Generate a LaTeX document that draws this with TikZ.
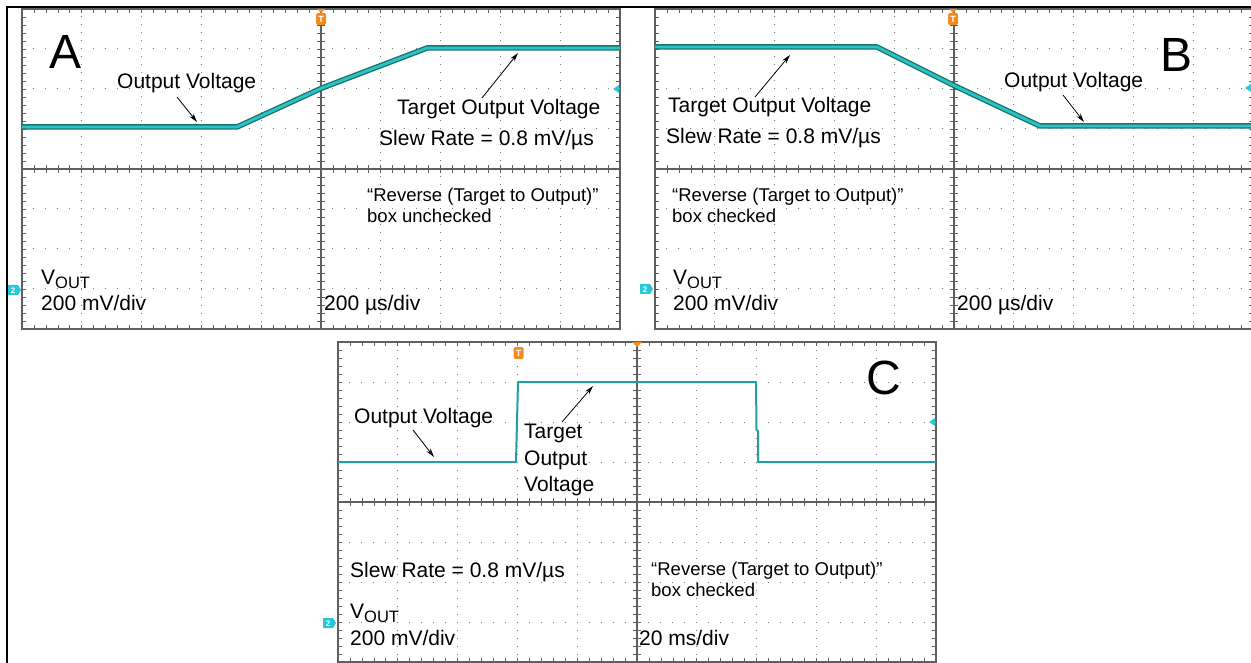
\documentclass[tikz,border=0pt]{standalone}
\usepackage{fontspec}
\setmainfont{Liberation Sans}
\usetikzlibrary{arrows.meta}
\definecolor{trdark}{RGB}{25,115,115}
\definecolor{trlight}{RGB}{45,195,195}
\definecolor{trigor}{RGB}{242,140,30}
\definecolor{chancy}{RGB}{40,200,215}
\definecolor{gridgray}{RGB}{125,125,125}
\definecolor{axisgray}{RGB}{95,95,95}
\tikzset{
  lbl/.style={anchor=base west, inner sep=0pt, font=\fontsize{21}{25}\selectfont},
  smalllbl/.style={anchor=base west, inner sep=0pt, font=\fontsize{18.5}{21}\selectfont},
  biglbl/.style={anchor=base west, inner sep=0pt, font=\fontsize{48}{50}\selectfont},
  pointer/.style={draw=black, line width=0.8pt, -{Stealth[length=9pt,width=5pt]}},
  dotv/.style={draw=gridgray, line width=1pt, dash pattern=on 1pt off 7pt, dash phase=0.5pt},
  doth/.style={draw=gridgray, line width=1pt, dash pattern=on 1pt off 10.96pt, dash phase=0.5pt},
  axisline/.style={draw=axisgray, line width=1.2pt},
  tickmark/.style={draw=axisgray, line width=0.7pt},
  screenborder/.style={draw=axisgray, line width=1.5pt},
  framebar/.style={draw=black, line width=2pt},
  thintrace/.style={draw=trdark!45!trlight, line width=2pt, line join=round},
}
\newcommand\scopescreen[2]{%
\begin{scope}[shift={(#1,#2)}]
  \def\dx{59.8}
  \foreach \i in {1,2,3,4,6,7,8,9} \draw[dotv] (\i*\dx,0) -- (\i*\dx,320);
  \foreach \j in {1,2,3,5,6,7} \draw[doth] (0,\j*40) -- (10*\dx,\j*40);
  \draw[axisline] (5*\dx,0) -- (5*\dx,320);
  \draw[axisline] (0,160) -- (10*\dx,160);
  \foreach \k in {1,...,49} {
    \draw[tickmark] (\k*\dx/5,156) -- (\k*\dx/5,164);
    \draw[tickmark] (\k*\dx/5,0) -- (\k*\dx/5,4);
    \draw[tickmark] (\k*\dx/5,320) -- (\k*\dx/5,316);}
  \foreach \k in {1,...,39} {
    \draw[tickmark] (5*\dx-4,\k*8) -- (5*\dx+4,\k*8);
    \draw[tickmark] (0,\k*8) -- (4,\k*8);
    \draw[tickmark] (10*\dx,\k*8) -- (10*\dx-4,\k*8);}
  \draw[screenborder] (0,0) rectangle (10*\dx,320);
\end{scope}}
\newcommand\thicktrace[1]{%
  \draw[trdark, line width=5.5pt, line join=round] #1;
  \draw[trlight, line width=2.8pt, line join=round] #1;}
\newcommand\trigmark[3]{% x, y top of box, name
  \fill[trigor, rounded corners=1.5pt] (#1-5,#2) rectangle (#1+5,#2+12);
  \node[text=white, font=\bfseries\fontsize{9}{9}\selectfont, inner sep=0pt] (#3) at (#1,#2+6.3) {T};}
\newcommand\chanmark[3]{% x left, y top, name
  \fill[chancy] (#1,#2) -- (#1+10,#2) -- (#1+13,#2+5) -- (#1+10,#2+10) -- (#1,#2+10) -- cycle;
  \node[text=white, font=\bfseries\fontsize{8}{8}\selectfont, inner sep=0pt] (#3) at (#1+5,#2+5.3) {2};}
\newcommand\levelmark[2]{% x right tip region, y
  \fill[chancy] (#1-7,#2) -- (#1-1,#2-4) -- (#1-1,#2+4) -- cycle;
  \draw[chancy, line width=1pt] (#1-2,#2) -- (#1,#2);}
\begin{document}
\begin{tikzpicture}[x=1pt,y=-1pt]
\useasboundingbox (0,0) rectangle (1251,663);
\fill[white] (0,0) rectangle (1251,663);
% scope screens
\scopescreen{22}{9}
\scopescreen{655}{9}
\scopescreen{338}{342}
% outer frame bars
\draw[framebar] (7,7.5) -- (1251,7.5);
\draw[framebar] (7,6.5) -- (7,663);
% traces
\thicktrace{(22,127) -- (237,127) -- (322,88) -- (427,48) -- (620,48)}
\thicktrace{(655,47) -- (877,47) -- (955,86) -- (1025,119) -- (1040,126) -- (1256,126)}
\draw[thintrace] (338,462) -- (516,462) -- (518,382) -- (756,382) -- (756.5,430) -- (758,431) -- (758,462) -- (936,462);
% trigger markers
\fill[trigor] (317,9) -- (325,9) -- (321,13) -- cycle;
\trigmark{321}{13}{trigA}
\fill[trigor] (949,9) -- (957,9) -- (953,13) -- cycle;
\trigmark{953}{13}{trigB}
\trigmark{518.5}{347}{trigC}
\fill[trigor] (632,342) -- (642,342) -- (637,347) -- cycle;
% level and channel markers
\levelmark{620}{89}
\levelmark{1252}{88}
\levelmark{936}{422}
\chanmark{8}{285}{chA}
\chanmark{640}{284}{chB}
\chanmark{323}{618}{chC}
% ---- Panel A text
\node[biglbl] (bigA) at (49,69) {A};
\node[lbl] (outA) at (117,89) {Output Voltage};
\node[lbl] (tgtA) at (397,115) {Target Output Voltage};
\node[lbl] (slewA) at (379,146) {Slew Rate = 0.8 mV/µs};
\node[smalllbl] (revA) at (367,202) {“Reverse (Target to Output)”};
\node[smalllbl] (boxA) at (367,223) {box unchecked};
\node[lbl] (voutA) at (41,285) {V\raisebox{-4pt}{\fontsize{16.5}{17}\selectfont OUT}};
\node[lbl] (scaleA) at (41,311) {200 mV/div};
\node[lbl] (timeA) at (324,311) {200 µs/div};
\coordinate (pA1s) at (177,97); \coordinate (pA1e) at (197,122);
\coordinate (pA2s) at (482,98); \coordinate (pA2e) at (518,53);
\draw[pointer] (pA1s) -- (pA1e);
\draw[pointer] (pA2s) -- (pA2e);
% ---- Panel B text
\node[biglbl] (bigB) at (1160,72) {B};
\node[lbl] (outB) at (1004,88) {Output Voltage};
\node[lbl] (tgtB) at (668,113) {Target Output Voltage};
\node[lbl] (slewB) at (666,144) {Slew Rate = 0.8 mV/µs};
\node[smalllbl] (revB) at (672,202) {“Reverse (Target to Output)”};
\node[smalllbl] (boxB) at (672,223) {box checked};
\node[lbl] (voutB) at (673,285) {V\raisebox{-4pt}{\fontsize{16.5}{17}\selectfont OUT}};
\node[lbl] (scaleB) at (673,311) {200 mV/div};
\node[lbl] (timeB) at (957,311) {200 µs/div};
\coordinate (pB1s) at (755,97); \coordinate (pB1e) at (790,55);
\coordinate (pB2s) at (1063,95); \coordinate (pB2e) at (1084,122);
\draw[pointer] (pB1s) -- (pB1e);
\draw[pointer] (pB2s) -- (pB2e);
% ---- Panel C text
\node[biglbl] (bigC) at (866,394) {C};
\node[lbl] (outC) at (354,423) {Output Voltage};
\node[lbl] (tgtC1) at (524,438) {Target};
\node[lbl] (tgtC2) at (524,465) {Output};
\node[lbl] (tgtC3) at (524,491) {Voltage};
\node[lbl] (slewC) at (350,577) {Slew Rate = 0.8 mV/µs};
\node[smalllbl] (revC) at (651,575) {“Reverse (Target to Output)”};
\node[smalllbl] (boxC) at (651,596) {box checked};
\node[lbl] (voutC) at (350,618) {V\raisebox{-4pt}{\fontsize{16.5}{17}\selectfont OUT}};
\node[lbl] (scaleC) at (350,645) {200 mV/div};
\node[lbl] (timeC) at (639,645) {20 ms/div};
\coordinate (pC1s) at (413,430); \coordinate (pC1e) at (434,457);
\coordinate (pC2s) at (562,422); \coordinate (pC2e) at (593,386);
\draw[pointer] (pC1s) -- (pC1e);
\draw[pointer] (pC2s) -- (pC2e);
\end{tikzpicture}
\end{document}
